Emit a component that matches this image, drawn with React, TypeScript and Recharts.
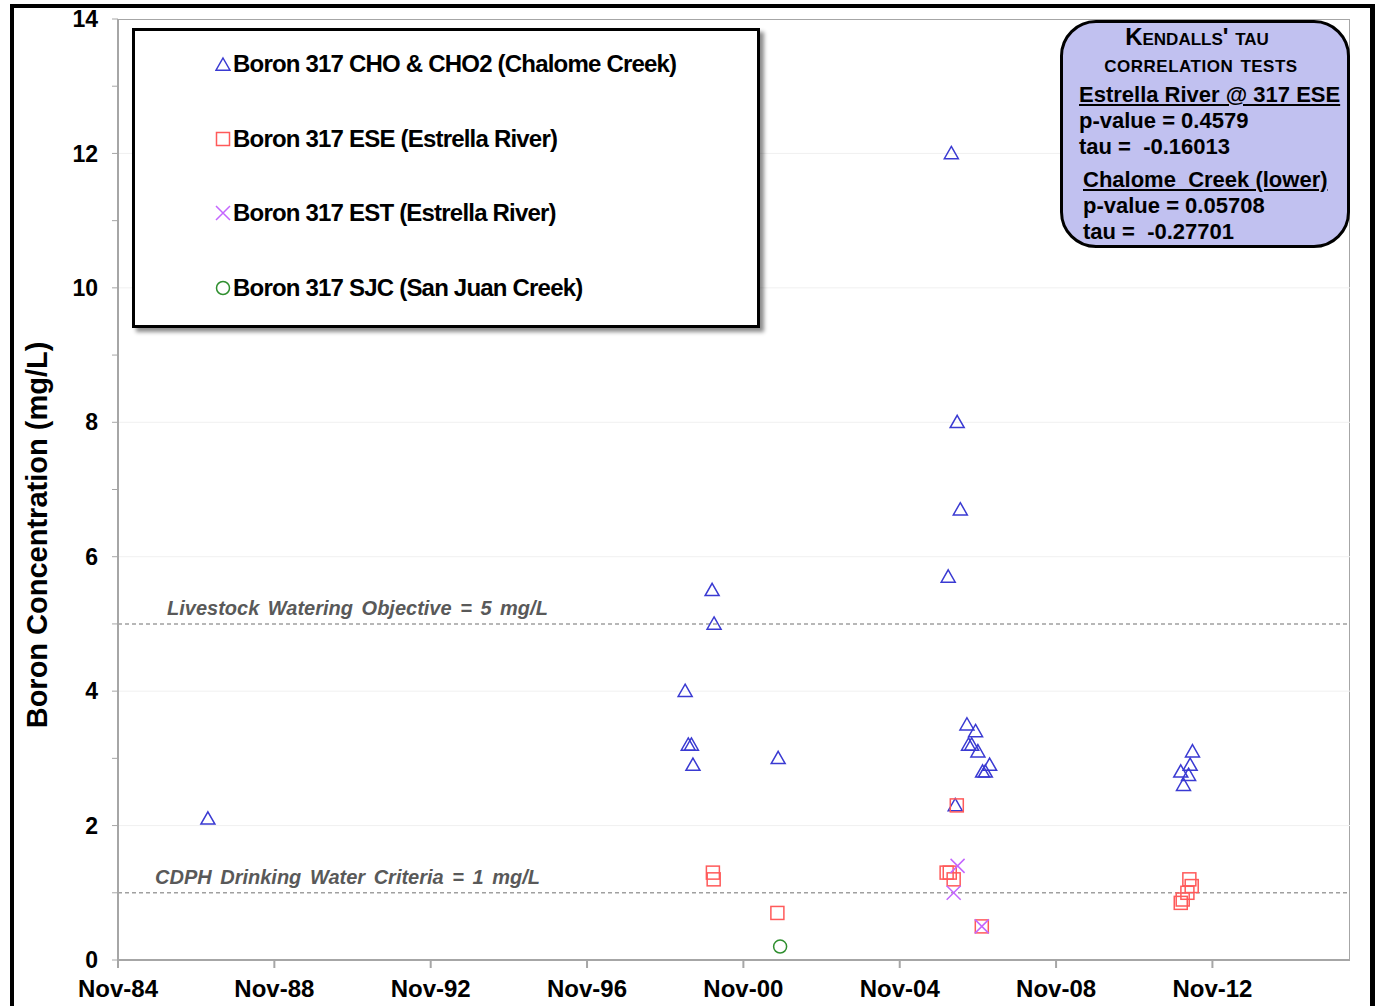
import React from 'react'
import {
  ScatterChart,
  Scatter,
  XAxis,
  YAxis,
  ReferenceLine,
} from 'recharts'

// Sample dates as decimal years, boron in mg/L
const choX = [1987.13, 1999.34, 1999.42, 1999.5, 1999.54, 2000.03, 2000.08, 2001.72, 2006.15, 2006.3, 2006.38, 2006.07, 2006.25, 2006.55, 2006.77, 2006.59, 2006.67, 2006.83, 2007.13, 2006.95, 2007.02, 2012.32, 2012.26, 2012.02, 2012.22, 2012.09]
const choY = [2.1, 4.0, 3.2, 3.2, 2.9, 5.5, 5.0, 3.0, 12.0, 8.0, 6.7, 5.7, 2.3, 3.5, 3.4, 3.2, 3.2, 3.1, 2.9, 2.8, 2.8, 3.1, 2.9, 2.8, 2.75, 2.6]

const eseX = [2000.05, 2000.07, 2001.7, 2006.29, 2006.03, 2006.11, 2006.21, 2006.93, 2012.24, 2012.3, 2012.19, 2012.07, 2012.02]
const eseY = [1.3, 1.2, 0.7, 2.3, 1.3, 1.3, 1.2, 0.5, 1.2, 1.1, 1.0, 0.9, 0.85]

const estX = [2006.31, 2006.21, 2006.93]
const estY = [1.4, 1.0, 0.5]

const sjcX = [2001.77]
const sjcY = [0.2]

const xTicks = [1984.83, 1988.83, 1992.83, 1996.83, 2000.83, 2004.83, 2008.83, 2012.83]
const xTickLabels = ['Nov-84', 'Nov-88', 'Nov-92', 'Nov-96', 'Nov-00', 'Nov-04', 'Nov-08', 'Nov-12']
const yTicks = [0, 1, 2, 3, 4, 5, 6, 7, 8, 9, 10, 11, 12, 13, 14]
const gridValues = [2, 4, 6, 8, 10, 12]

const legendItems = [
  { shape: 'tri', label: 'Boron 317 CHO & CHO2 (Chalome Creek)' },
  { shape: 'sq', label: 'Boron 317 ESE (Estrella River)' },
  { shape: 'x', label: 'Boron 317 EST (Estrella River)' },
  { shape: 'circ', label: 'Boron 317 SJC (San Juan Creek)' },
]

const COLORS = {
  tri: '#3a3ad2',
  sq: '#ff5a5a',
  x: '#c466ff',
  circ: '#2f8f2f',
  axis: '#a6a6a6',
  refLine: '#a0a0a0',
  refText: '#595959',
}

const ARIAL = '"Liberation Sans", Arial, sans-serif'

const toPoints = (xs: number[], ys: number[]) => xs.map((x, i) => ({ x, y: ys[i] }))

function Triangle(props: any) {
  const { cx, cy } = props
  const s = 7
  return (
    <path
      d={`M${cx},${cy - s} L${cx + s},${cy + s * 0.75} L${cx - s},${cy + s * 0.75} Z`}
      fill="none"
      stroke={COLORS.tri}
      strokeWidth={1.5}
    />
  )
}

function Square(props: any) {
  const { cx, cy } = props
  const s = 6.5
  return <rect x={cx - s} y={cy - s} width={s * 2} height={s * 2} fill="none" stroke={COLORS.sq} strokeWidth={1.5} />
}

function Cross(props: any) {
  const { cx, cy } = props
  const s = 7
  return (
    <path
      d={`M${cx - s},${cy - s} L${cx + s},${cy + s} M${cx + s},${cy - s} L${cx - s},${cy + s}`}
      stroke={COLORS.x}
      strokeWidth={1.5}
    />
  )
}

function Circle(props: any) {
  const { cx, cy } = props
  return <circle cx={cx} cy={cy} r={6.5} fill="none" stroke={COLORS.circ} strokeWidth={1.5} />
}

function LegendIcon({ shape }: { shape: string }) {
  return (
    <svg width={16} height={16} style={{ marginRight: 2 }}>
      {shape === 'tri' && <Triangle cx={8} cy={9} />}
      {shape === 'sq' && <Square cx={8} cy={8} />}
      {shape === 'x' && <Cross cx={8} cy={8} />}
      {shape === 'circ' && <Circle cx={8} cy={8} />}
    </svg>
  )
}

const refLabel = (text: string, dx: number) => (props: any) => {
  const { viewBox } = props
  return (
    <text
      x={viewBox.x + dx}
      y={viewBox.y - 9}
      fill={COLORS.refText}
      fontFamily={ARIAL}
      fontStyle="italic"
      fontWeight="bold"
      fontSize={20}
      style={{ wordSpacing: 3 }}
    >
      {text}
    </text>
  )
}

const yAxisLabel = () => (
  <text
    x={37}
    y={535}
    transform="rotate(-90, 37, 535)"
    textAnchor="middle"
    dominantBaseline="central"
    fontFamily={ARIAL}
    fontWeight="bold"
    fontSize={29}
    fill="#000"
  >
    Boron Concentration (mg/L)
  </text>
)

export default function App() {
  return (
    <div style={{ position: 'absolute', left: 0, top: 0, width: 1375, height: 1006, background: '#fff', overflow: 'hidden' }}>
      {/* plot border */}
      <div
        style={{
          position: 'absolute',
          left: 118,
          top: 19,
          width: 1231,
          height: 941,
          borderTop: `1px solid ${COLORS.axis}`,
          borderRight: `1.5px solid ${COLORS.axis}`,
        }}
      />
      <div style={{ position: 'absolute', left: 0, top: 0 }}>
        <ScatterChart width={1375} height={1006} margin={{ top: 19, right: 25, bottom: 0, left: 0 }}>
          <XAxis
            type="number"
            dataKey="x"
            domain={[1984.83, 2016.35]}
            ticks={xTicks}
            height={46}
            tickFormatter={(v: number) => xTickLabels[xTicks.indexOf(v)] ?? ''}
            axisLine={{ stroke: COLORS.axis, strokeWidth: 2 }}
            tickLine={{ stroke: COLORS.axis, strokeWidth: 2 }}
            tickSize={8}
            tick={{ fill: '#000', fontSize: 24, fontWeight: 'bold', fontFamily: ARIAL, dy: 10 }}
            allowDataOverflow
          />
          <YAxis
            type="number"
            dataKey="y"
            domain={[0, 14]}
            ticks={yTicks}
            interval={0}
            tickFormatter={(v: number) => (v % 2 === 0 ? String(v) : '')}
            axisLine={{ stroke: COLORS.axis, strokeWidth: 2 }}
            tickLine={{ stroke: COLORS.axis, strokeWidth: 1 }}
            tickSize={6}
            width={118}
            tick={{ fill: '#000', fontSize: 23, fontWeight: 'bold', fontFamily: ARIAL, dx: -12 }}
            label={yAxisLabel}
          />
          {gridValues.map((v) => (
            <ReferenceLine key={v} y={v} stroke="#f0f0f0" strokeWidth={1} />
          ))}
          <ReferenceLine
            y={5}
            stroke={COLORS.refLine}
            strokeDasharray="4 3"
            strokeWidth={1.5}
            label={refLabel('Livestock  Watering  Objective  =  5 mg/L', 49)}
          />
          <ReferenceLine
            y={1}
            stroke={COLORS.refLine}
            strokeDasharray="4 3"
            strokeWidth={1.5}
            label={refLabel('CDPH  Drinking  Water  Criteria  =  1 mg/L', 37)}
          />
          <Scatter name="CHO" data={toPoints(choX, choY)} shape={<Triangle />} isAnimationActive={false} />
          <Scatter name="ESE" data={toPoints(eseX, eseY)} shape={<Square />} isAnimationActive={false} />
          <Scatter name="EST" data={toPoints(estX, estY)} shape={<Cross />} isAnimationActive={false} />
          <Scatter name="SJC" data={toPoints(sjcX, sjcY)} shape={<Circle />} isAnimationActive={false} />
        </ScatterChart>
      </div>
      {/* outer frame */}
      <div
        style={{
          position: 'absolute',
          left: 10,
          top: 4,
          width: 1356,
          height: 1100,
          border: '4px solid #000',
          borderRight: '5px solid #000',
          pointerEvents: 'none',
        }}
      />
      {/* legend box */}
      <div
        style={{
          position: 'absolute',
          left: 132,
          top: 28,
          width: 622,
          height: 294,
          border: '3px solid #000',
          background: '#fff',
          boxShadow: '4px 4px 4px rgba(0,0,0,0.45)',
        }}
      >
        {legendItems.map((item, i) => (
          <div
            key={item.label}
            style={{
              position: 'absolute',
              left: 80,
              top: 19 + i * 74.5,
              display: 'flex',
              alignItems: 'center',
              fontFamily: ARIAL,
              fontWeight: 'bold',
              fontSize: 24,
              letterSpacing: -0.8,
              color: '#000',
              whiteSpace: 'nowrap',
            }}
          >
            <LegendIcon shape={item.shape} />
            {item.label}
          </div>
        ))}
      </div>
      {/* Kendall's tau box */}
      <div
        style={{
          position: 'absolute',
          left: 1060,
          top: 20,
          width: 284,
          height: 222,
          border: '3px solid #000',
          borderRadius: 36,
          background: '#c1c1f0',
          fontFamily: ARIAL,
          fontWeight: 'bold',
          color: '#000',
          fontSize: 22,
          lineHeight: '26px',
        }}
      >
        <div style={{ textAlign: 'center', fontVariant: 'small-caps', fontSize: 24, lineHeight: '28px', paddingRight: 16 }}>
          Kendalls' tau
        </div>
        <div style={{ textAlign: 'center', fontVariant: 'small-caps', fontSize: 24, lineHeight: '26px', letterSpacing: 0.5, paddingRight: 8 }}>
          correlation tests
        </div>
        <div style={{ marginLeft: 16, marginTop: 5, textDecoration: 'underline', whiteSpace: 'nowrap' }}>Estrella River @ 317 ESE</div>
        <div style={{ marginLeft: 16 }}>p-value = 0.4579</div>
        <div style={{ marginLeft: 16 }}>tau =&nbsp; -0.16013</div>
        <div style={{ marginLeft: 20, marginTop: 7, textDecoration: 'underline', whiteSpace: 'nowrap' }}>Chalome&nbsp; Creek (lower)</div>
        <div style={{ marginLeft: 20 }}>p-value = 0.05708</div>
        <div style={{ marginLeft: 20 }}>tau =&nbsp; -0.27701</div>
      </div>
    </div>
  )
}
